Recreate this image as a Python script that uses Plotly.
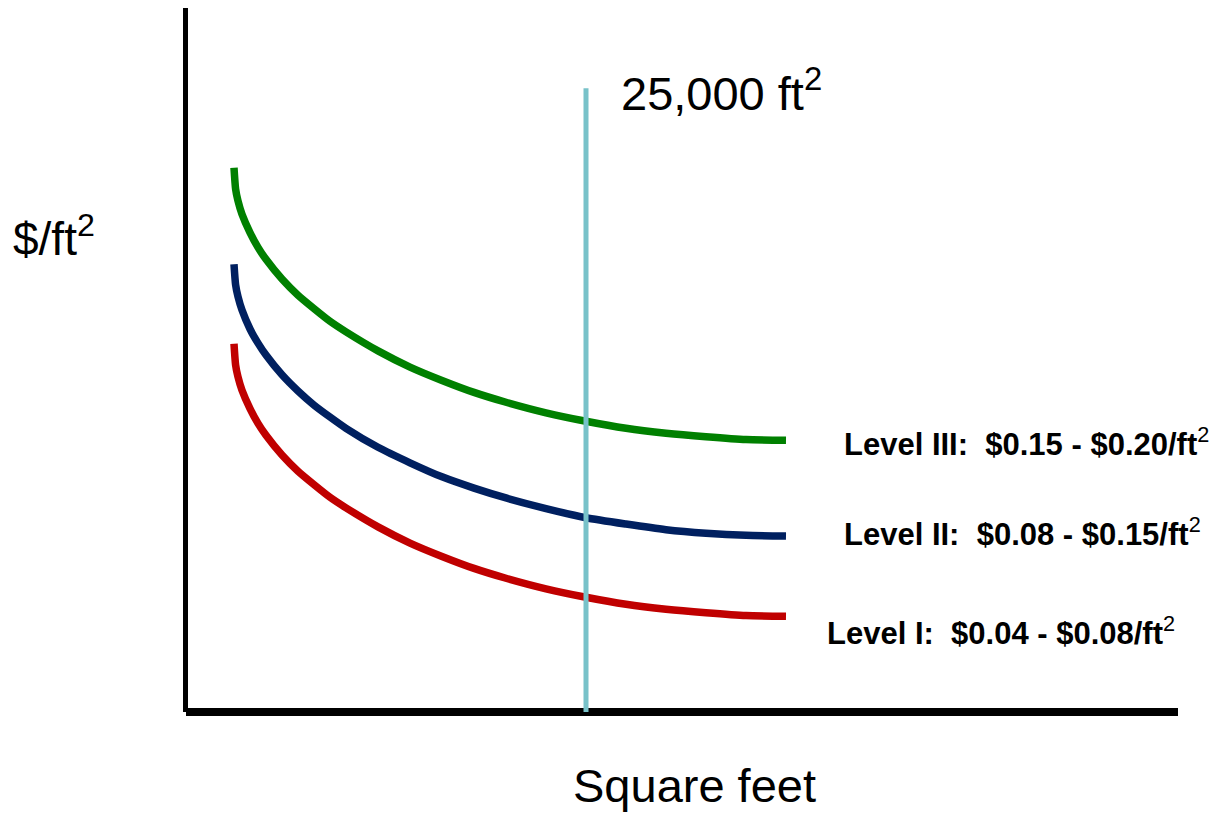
import plotly.graph_objects as go

# Floor area (ft²) sampled along each cost curve
square_feet = [3000, 3100, 3250, 3500, 4000, 4500, 5000, 6000, 7000, 8000, 9000,
               10000, 12000, 14000, 16000, 18000, 20000, 22500, 25000, 27500,
               30000, 32500, 35000, 37500]

# Relative cost per ft² (index, 0 at the baseline) for each service level
level_3 = [77.3, 74.3, 72.6, 70.7, 68.1, 66.0, 64.3, 61.5, 59.2, 57.3, 55.5,
           54.0, 51.3, 49.0, 47.1, 45.4, 44.0, 42.5, 41.3, 40.3,
           39.6, 39.1, 38.7, 38.6]
level_2 = [63.6, 60.7, 59.0, 57.1, 54.4, 52.4, 50.7, 47.9, 45.6, 43.6, 41.9,
           40.3, 37.6, 35.4, 33.4, 31.8, 30.4, 28.9, 27.6, 26.7,
           25.9, 25.4, 25.1, 25.0]
level_1 = [52.3, 49.3, 47.6, 45.7, 43.1, 41.0, 39.3, 36.5, 34.2, 32.3, 30.5,
           29.0, 26.3, 24.0, 22.1, 20.4, 19.0, 17.5, 16.3, 15.3,
           14.6, 14.1, 13.7, 13.6]

levels = ["Level III", "Level II", "Level I"]
level_ranges = ["$0.15 - $0.20", "$0.08 - $0.15", "$0.04 - $0.08"]
level_colors = ["#008000", "#002060", "#c00000"]

threshold_sqft = 25000
threshold_top = 88.6

X_MAX = 62000
Y_MAX = 100

FONT = "Liberation Sans, Arial, Helvetica, sans-serif"

fig = go.Figure()

for name, ys, color in zip(levels, [level_3, level_2, level_1], level_colors):
    fig.add_trace(go.Scatter(
        x=square_feet, y=ys, mode="lines", name=name,
        line=dict(color=color, width=7.5, shape="spline", smoothing=0.6),
        hoverinfo="skip", showlegend=False,
    ))

# Axis lines
fig.add_shape(type="line", xref="paper", yref="paper",
              x0=-0.0005, x1=-0.0005, y0=0, y1=1,
              line=dict(color="black", width=5))
fig.add_shape(type="line", xref="paper", yref="paper",
              x0=0, x1=1, y0=0, y1=0,
              line=dict(color="black", width=8))

# 25,000 ft² threshold marker
fig.add_shape(type="line", xref="x", yref="y",
              x0=threshold_sqft, x1=threshold_sqft, y0=0, y1=threshold_top,
              line=dict(color="#78c2c9", width=5))
fig.add_annotation(x=threshold_sqft, y=threshold_top, xref="x", yref="y",
                   text="25,000 ft<sup>2</sup>", showarrow=False,
                   xanchor="left", yanchor="top", xshift=33, yshift=30,
                   font=dict(family=FONT, size=47, color="black"))

# Level labels at the right end of each curve
label_x = [41000, 41000, 39950]
label_y = [38.4, 25.6, 11.5]
for name, rng, lx, ly in zip(levels, level_ranges, label_x, label_y):
    fig.add_annotation(x=lx, y=ly, xref="x", yref="y",
                       text=f"<b>{name}:\u00a0\u00a0{rng}/ft</b><sup>2</sup>",
                       showarrow=False, xanchor="left", yanchor="middle",
                       font=dict(family=FONT, size=31, color="black"))

# Axis titles
fig.add_annotation(x=0.513, y=-0.104, xref="paper", yref="paper",
                   text="Square feet", showarrow=False,
                   xanchor="center", yanchor="middle",
                   font=dict(family=FONT, size=47, color="black"))
fig.add_annotation(x=-0.1764, y=0.676, xref="paper", yref="paper",
                   text="$/ft<sup>2</sup>", showarrow=False,
                   xanchor="left", yanchor="middle",
                   font=dict(family=FONT, size=46, color="black"))

fig.update_xaxes(range=[0, X_MAX], visible=False, fixedrange=True)
fig.update_yaxes(range=[0, Y_MAX], visible=False, fixedrange=True)
fig.update_layout(
    width=1226, height=813,
    margin=dict(l=186, r=48, t=8, b=101),
    paper_bgcolor="white", plot_bgcolor="white",
    showlegend=False,
)

fig.write_html("out.html", config={"displayModeBar": False})
